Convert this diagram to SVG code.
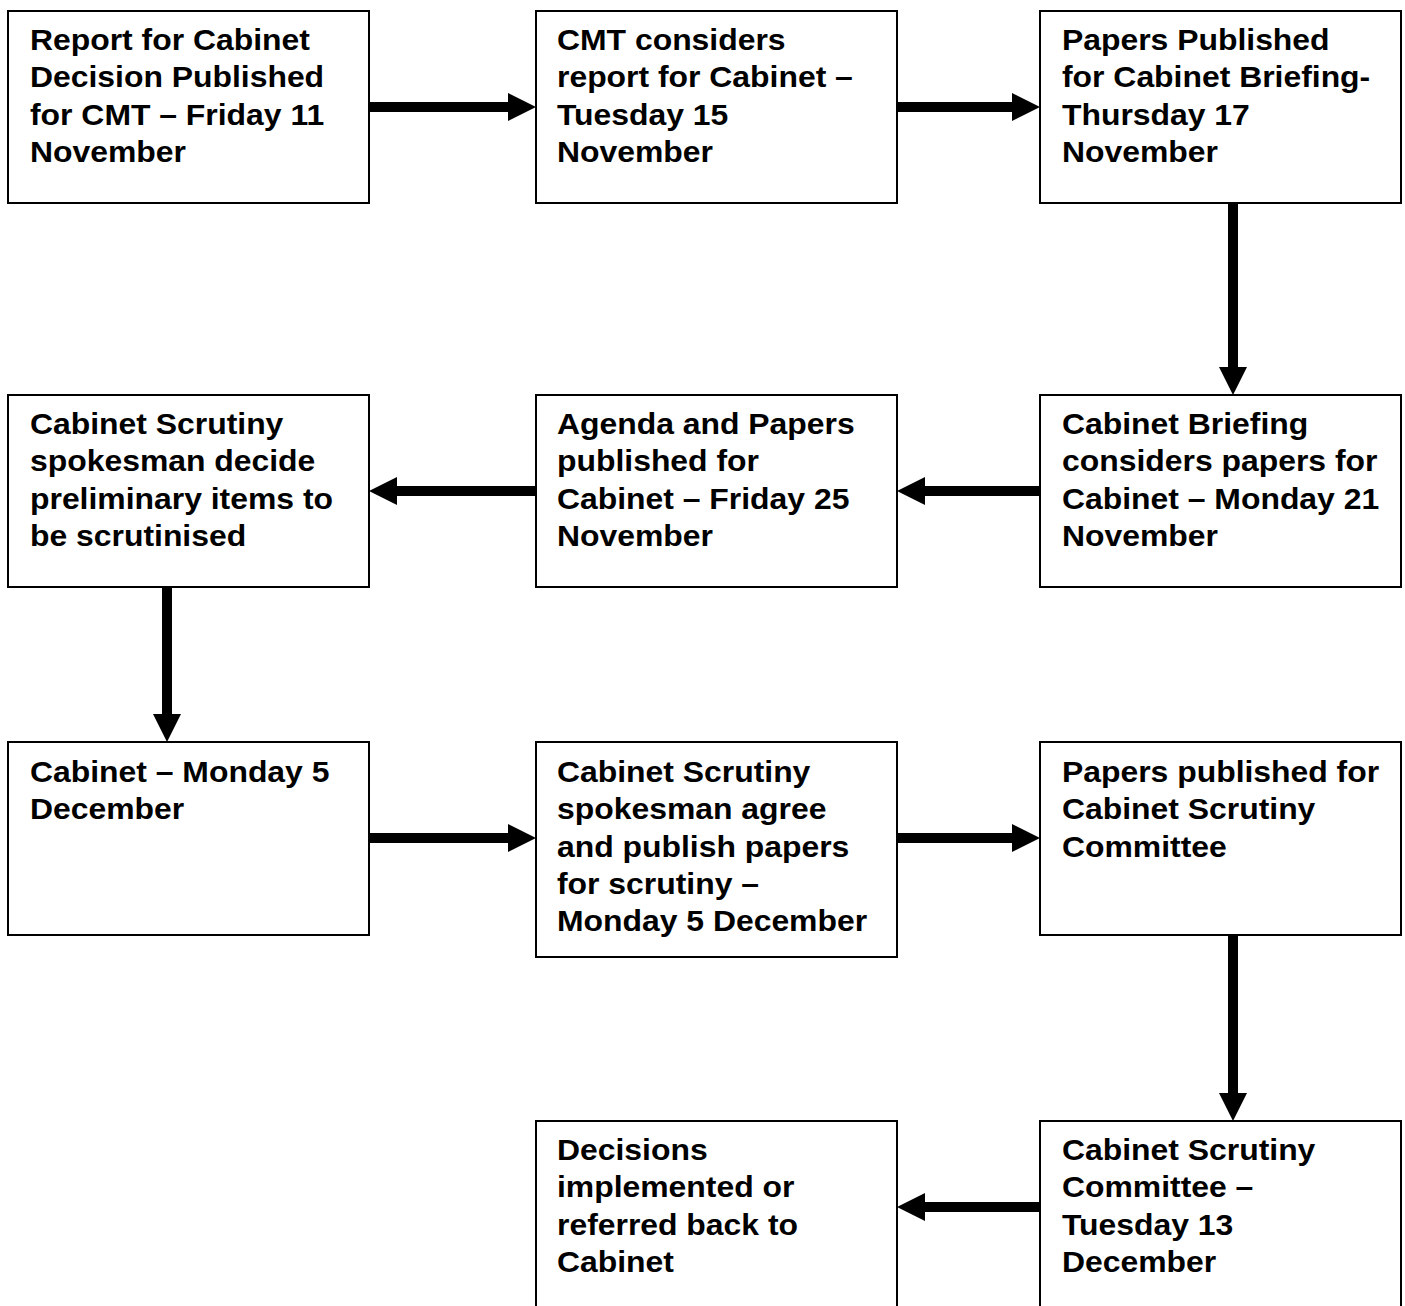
<svg xmlns="http://www.w3.org/2000/svg" width="1405" height="1306" viewBox="0 0 1405 1306">
<style>
.box{fill:#fff;stroke:#000;stroke-width:2}
.t{font-family:"Liberation Sans",Arial,sans-serif;font-weight:bold;font-size:29px;fill:#000}
.c{stroke:#000;stroke-width:10;fill:none}
</style>
<defs>
<marker id="ah" markerUnits="userSpaceOnUse" markerWidth="28" markerHeight="28" refX="0" refY="14" orient="auto">
<path d="M0,0 L28,14 L0,28 z" fill="#000"/>
</marker>
</defs>
<rect width="1405" height="1306" fill="#fff"/>
<g id="connectors">
<line class="c" x1="369" y1="107" x2="508" y2="107" marker-end="url(#ah)"/>
<line class="c" x1="897" y1="107" x2="1012" y2="107" marker-end="url(#ah)"/>
<line class="c" x1="1233" y1="203" x2="1233" y2="367" marker-end="url(#ah)"/>
<line class="c" x1="1040" y1="491" x2="925" y2="491" marker-end="url(#ah)"/>
<line class="c" x1="536" y1="491" x2="397" y2="491" marker-end="url(#ah)"/>
<line class="c" x1="167" y1="587" x2="167" y2="714" marker-end="url(#ah)"/>
<line class="c" x1="369" y1="838" x2="508" y2="838" marker-end="url(#ah)"/>
<line class="c" x1="897" y1="838" x2="1012" y2="838" marker-end="url(#ah)"/>
<line class="c" x1="1233" y1="935" x2="1233" y2="1093" marker-end="url(#ah)"/>
<line class="c" x1="1040" y1="1207" x2="925" y2="1207" marker-end="url(#ah)"/>
</g>
<g id="n1"><rect class="box" x="8" y="11" width="361" height="192"/>
<text class="t" transform="translate(30,50) scale(1.1 1)"><tspan x="0" y="0">Report for Cabinet</tspan><tspan x="0" dy="37.3">Decision Published</tspan><tspan x="0" dy="37.3">for CMT – Friday 11</tspan><tspan x="0" dy="37.3">November</tspan></text></g>
<g id="n2"><rect class="box" x="536" y="11" width="361" height="192"/>
<text class="t" transform="translate(557,50) scale(1.1 1)"><tspan x="0" y="0">CMT considers</tspan><tspan x="0" dy="37.3">report for Cabinet –</tspan><tspan x="0" dy="37.3">Tuesday 15</tspan><tspan x="0" dy="37.3">November</tspan></text></g>
<g id="n3"><rect class="box" x="1040" y="11" width="361" height="192"/>
<text class="t" transform="translate(1062,50) scale(1.1 1)"><tspan x="0" y="0">Papers Published</tspan><tspan x="0" dy="37.3">for Cabinet Briefing-</tspan><tspan x="0" dy="37.3">Thursday 17</tspan><tspan x="0" dy="37.3">November</tspan></text></g>
<g id="n4"><rect class="box" x="1040" y="395" width="361" height="192"/>
<text class="t" transform="translate(1062,434) scale(1.1 1)"><tspan x="0" y="0">Cabinet Briefing</tspan><tspan x="0" dy="37.3">considers papers for</tspan><tspan x="0" dy="37.3">Cabinet – Monday 21</tspan><tspan x="0" dy="37.3">November</tspan></text></g>
<g id="n5"><rect class="box" x="536" y="395" width="361" height="192"/>
<text class="t" transform="translate(557,434) scale(1.1 1)"><tspan x="0" y="0">Agenda and Papers</tspan><tspan x="0" dy="37.3">published for</tspan><tspan x="0" dy="37.3">Cabinet – Friday 25</tspan><tspan x="0" dy="37.3">November</tspan></text></g>
<g id="n6"><rect class="box" x="8" y="395" width="361" height="192"/>
<text class="t" transform="translate(30,434) scale(1.1 1)"><tspan x="0" y="0">Cabinet Scrutiny</tspan><tspan x="0" dy="37.3">spokesman decide</tspan><tspan x="0" dy="37.3">preliminary items to</tspan><tspan x="0" dy="37.3">be scrutinised</tspan></text></g>
<g id="n7"><rect class="box" x="8" y="742" width="361" height="193"/>
<text class="t" transform="translate(30,782) scale(1.1 1)"><tspan x="0" y="0">Cabinet – Monday 5</tspan><tspan x="0" dy="37.3">December</tspan></text></g>
<g id="n8"><rect class="box" x="536" y="742" width="361" height="215"/>
<text class="t" transform="translate(557,782) scale(1.1 1)"><tspan x="0" y="0">Cabinet Scrutiny</tspan><tspan x="0" dy="37.3">spokesman agree</tspan><tspan x="0" dy="37.3">and publish papers</tspan><tspan x="0" dy="37.3">for scrutiny –</tspan><tspan x="0" dy="37.3">Monday 5 December</tspan></text></g>
<g id="n9"><rect class="box" x="1040" y="742" width="361" height="193"/>
<text class="t" transform="translate(1062,782) scale(1.1 1)"><tspan x="0" y="0">Papers published for</tspan><tspan x="0" dy="37.3">Cabinet Scrutiny</tspan><tspan x="0" dy="37.3">Committee</tspan></text></g>
<g id="n10"><rect class="box" x="1040" y="1121" width="361" height="200"/>
<text class="t" transform="translate(1062,1160) scale(1.1 1)"><tspan x="0" y="0">Cabinet Scrutiny</tspan><tspan x="0" dy="37.3">Committee –</tspan><tspan x="0" dy="37.3">Tuesday 13</tspan><tspan x="0" dy="37.3">December</tspan></text></g>
<g id="n11"><rect class="box" x="536" y="1121" width="361" height="200"/>
<text class="t" transform="translate(557,1160) scale(1.1 1)"><tspan x="0" y="0">Decisions</tspan><tspan x="0" dy="37.3">implemented or</tspan><tspan x="0" dy="37.3">referred back to</tspan><tspan x="0" dy="37.3">Cabinet</tspan></text></g>
</svg>
